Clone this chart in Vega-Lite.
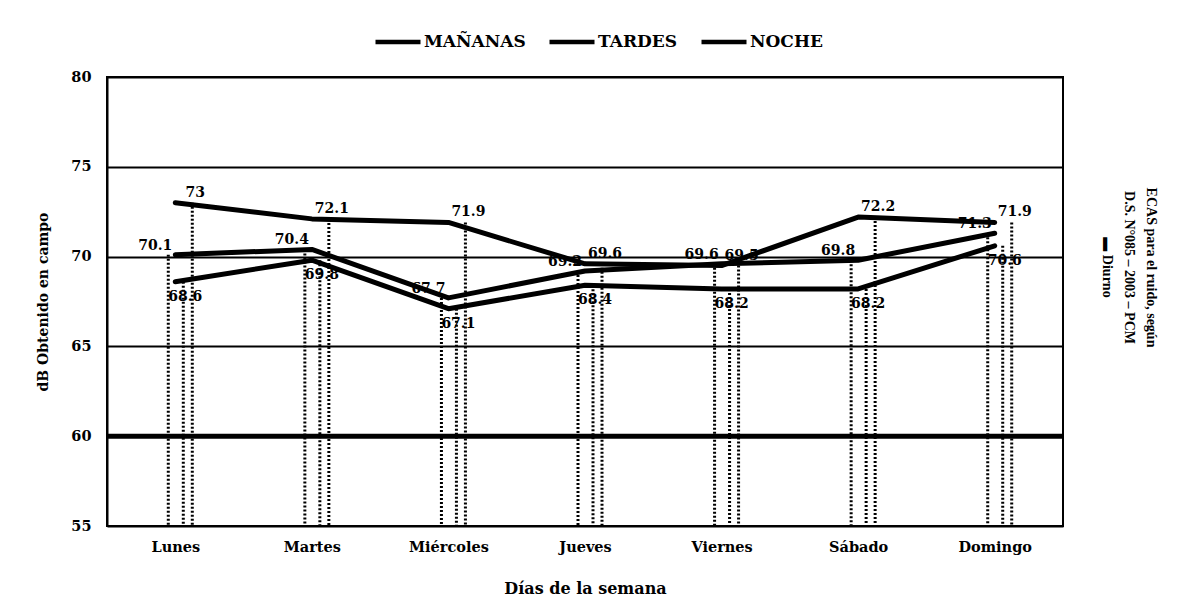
{
  "$schema": "https://vega.github.io/schema/vega-lite/v6.json",
  "width": 956,
  "height": 449,
  "autosize": {"type": "none"},
  "padding": {"left": 107, "top": 77, "right": 126, "bottom": 88},
  "background": "white",
  "config": {
    "font": "DejaVu Serif",
    "view": {"stroke": "black", "strokeWidth": 2},
    "axis": {
      "labelFont": "DejaVu Serif",
      "labelFontWeight": "bold",
      "labelColor": "black",
      "titleFont": "DejaVu Serif",
      "titleFontWeight": "bold",
      "titleColor": "black",
      "ticks": false
    }
  },
  "datasets": {
    "ruido": [
      {"dia": "Lunes", "serie": "MAÑANAS", "db": 70.1},
      {"dia": "Martes", "serie": "MAÑANAS", "db": 70.4},
      {"dia": "Miércoles", "serie": "MAÑANAS", "db": 67.7},
      {"dia": "Jueves", "serie": "MAÑANAS", "db": 69.2},
      {"dia": "Viernes", "serie": "MAÑANAS", "db": 69.6},
      {"dia": "Sábado", "serie": "MAÑANAS", "db": 69.8},
      {"dia": "Domingo", "serie": "MAÑANAS", "db": 71.3},
      {"dia": "Lunes", "serie": "TARDES", "db": 68.6},
      {"dia": "Martes", "serie": "TARDES", "db": 69.8},
      {"dia": "Miércoles", "serie": "TARDES", "db": 67.1},
      {"dia": "Jueves", "serie": "TARDES", "db": 68.4},
      {"dia": "Viernes", "serie": "TARDES", "db": 68.2},
      {"dia": "Sábado", "serie": "TARDES", "db": 68.2},
      {"dia": "Domingo", "serie": "TARDES", "db": 70.6},
      {"dia": "Lunes", "serie": "NOCHE", "db": 73},
      {"dia": "Martes", "serie": "NOCHE", "db": 72.1},
      {"dia": "Miércoles", "serie": "NOCHE", "db": 71.9},
      {"dia": "Jueves", "serie": "NOCHE", "db": 69.6},
      {"dia": "Viernes", "serie": "NOCHE", "db": 69.5},
      {"dia": "Sábado", "serie": "NOCHE", "db": 72.2},
      {"dia": "Domingo", "serie": "NOCHE", "db": 71.9}
    ],
    "ecas": [{"norma": "Diurno", "limite": 60}]
  },
  "layer": [
    {
      "data": {"name": "ruido"},
      "encoding": {
        "x": {
          "field": "dia",
          "type": "ordinal",
          "sort": ["Lunes", "Martes", "Miércoles", "Jueves", "Viernes", "Sábado", "Domingo"],
          "scale": {"type": "point", "padding": 0.5},
          "axis": {
            "labelAngle": 0,
            "labelFontSize": 14.5,
            "labelPadding": 14,
            "domain": false,
            "title": "Días de la semana",
            "titleFontSize": 16,
            "titlePadding": 27
          }
        },
        "y": {
          "field": "db",
          "type": "quantitative",
          "scale": {"domain": [55, 80], "nice": false, "zero": false},
          "axis": {
            "values": [55, 60, 65, 70, 75, 80],
            "grid": true,
            "gridColor": "black",
            "gridWidth": 2,
            "gridOpacity": 1,
            "domain": true,
            "domainColor": "black",
            "domainWidth": 2,
            "labelFontSize": 14.5,
            "labelPadding": 16,
            "title": "dB  Obtenido en campo",
            "titleFontSize": 14,
            "titlePadding": 20
          }
        }
      },
      "layer": [
        {
          "transform": [{"filter": "datum.serie === 'MAÑANAS'"}],
          "mark": {"type": "rule", "strokeDash": [2, 2], "strokeWidth": 3, "color": "black", "xOffset": -7},
          "encoding": {"y2": {"datum": 55}}
        },
        {
          "transform": [{"filter": "datum.serie === 'TARDES'"}],
          "mark": {"type": "rule", "strokeDash": [2, 2], "strokeWidth": 3, "color": "black", "xOffset": 8},
          "encoding": {"y2": {"datum": 55}}
        },
        {
          "transform": [{"filter": "datum.serie === 'NOCHE'"}],
          "mark": {"type": "rule", "strokeDash": [2, 2], "strokeWidth": 3, "color": "black", "xOffset": 17},
          "encoding": {"y2": {"datum": 55}}
        },
        {
          "mark": {"type": "line", "strokeWidth": 5, "strokeCap": "round", "strokeJoin": "round"},
          "encoding": {
            "color": {
              "field": "serie",
              "type": "nominal",
              "scale": {"domain": ["MAÑANAS", "TARDES", "NOCHE"], "range": ["black", "black", "black"]},
              "legend": {
                "orient": "none",
                "legendX": 266,
                "legendY": -60,
                "direction": "horizontal",
                "title": null,
                "symbolType": "stroke",
                "symbolSize": 2025,
                "symbolStrokeWidth": 4.5,
                "labelFont": "DejaVu Serif",
                "labelFontWeight": "bold",
                "labelFontSize": 17,
                "labelColor": "black",
                "labelOffset": 1,
                "columnPadding": 14
              }
            }
          }
        },
        {
          "transform": [{"filter": "datum.serie === 'MAÑANAS'"}],
          "mark": {"type": "text", "font": "DejaVu Serif", "fontWeight": "bold", "fontSize": 14, "color": "black", "dx": -20, "dy": -9},
          "encoding": {"text": {"field": "db", "type": "quantitative", "format": ".1~f"}}
        },
        {
          "transform": [{"filter": "datum.serie === 'TARDES'"}],
          "mark": {"type": "text", "font": "DejaVu Serif", "fontWeight": "bold", "fontSize": 14, "color": "black", "dx": 10, "dy": 15},
          "encoding": {"text": {"field": "db", "type": "quantitative", "format": ".1~f"}}
        },
        {
          "transform": [{"filter": "datum.serie === 'NOCHE'"}],
          "mark": {"type": "text", "font": "DejaVu Serif", "fontWeight": "bold", "fontSize": 14, "color": "black", "dx": 20, "dy": -10},
          "encoding": {"text": {"field": "db", "type": "quantitative", "format": ".1~f"}}
        }
      ]
    },
    {
      "data": {"name": "ecas"},
      "mark": {"type": "rule", "color": "black", "strokeWidth": 5},
      "encoding": {
        "y": {
          "field": "limite",
          "type": "quantitative",
          "axis": {
            "orient": "right",
            "labels": false,
            "ticks": false,
            "domain": false,
            "grid": false,
            "title": ["ECAS para el ruido, según", "D.S. N°085 – 2003 – PCM", "▬ Diurno"],
            "titleFont": "Liberation Serif",
            "titleFontSize": 14,
            "titleAngle": 90,
            "titleLineHeight": 22,
            "titlePadding": 36,
            "titleY": 190
          }
        }
      }
    }
  ],
  "resolve": {"axis": {"y": "independent"}}
}
